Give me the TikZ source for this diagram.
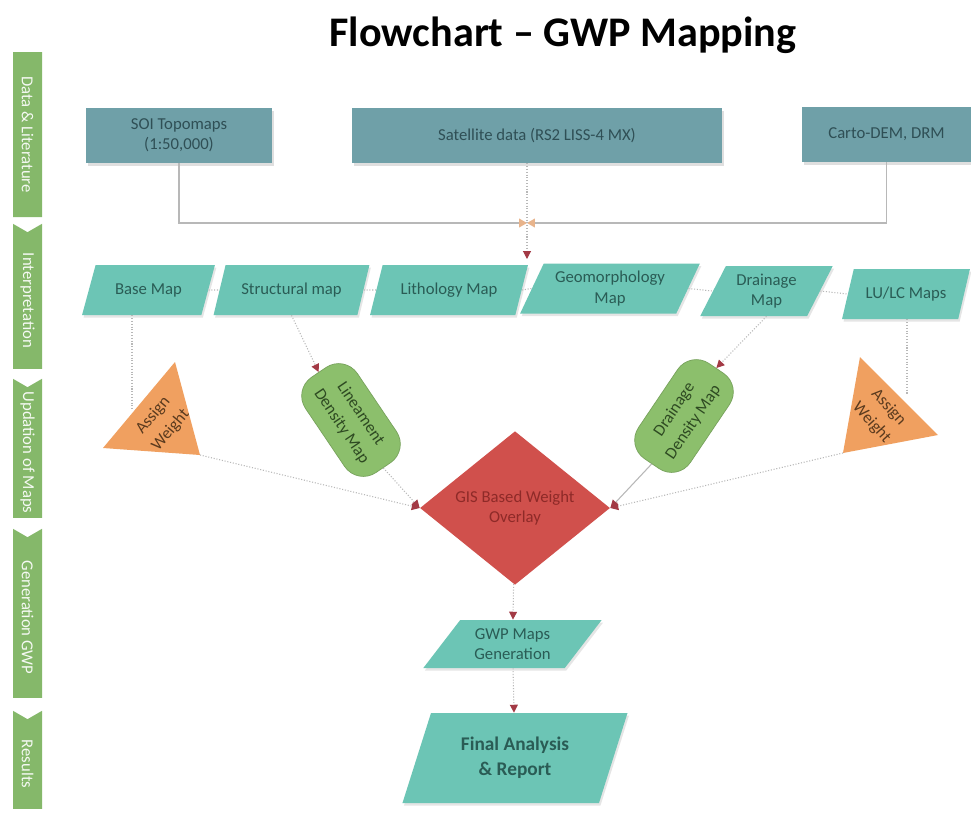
\documentclass[tikz,border=0pt]{standalone}
\usepackage{fontspec}
\setmainfont{Carlito}
\usetikzlibrary{shapes.geometric, shapes.symbols, arrows.meta, positioning, shadows}

\definecolor{srcteal}{HTML}{6FA0A8}
\definecolor{srctext}{HTML}{2F4F55}
\definecolor{mapteal}{HTML}{6CC5B5}
\definecolor{maptext}{HTML}{2A5C55}
\definecolor{wtorange}{HTML}{F0A060}
\definecolor{wttext}{HTML}{5A3A1E}
\definecolor{densgreen}{HTML}{8CBF6C}
\definecolor{denstext}{HTML}{2E4A22}
\definecolor{gisred}{HTML}{D0504C}
\definecolor{gistext}{HTML}{8E2A28}
\definecolor{sidegreen}{HTML}{85B86A}
\definecolor{linkgray}{HTML}{B8B8B8}
\definecolor{tipred}{HTML}{A33A45}
\definecolor{tippeach}{HTML}{E8B48C}

\tikzstyle{source} = [rectangle, minimum height=1.1cm, text centered, align=center, fill=srcteal, text=srctext, drop shadow={shadow xshift=0.03cm, shadow yshift=-0.05cm, opacity=0.25}]
\tikzstyle{mapbox} = [trapezium, trapezium left angle=62, trapezium right angle=118, trapezium stretches=true, minimum height=1cm, inner sep=1pt, align=center, fill=mapteal, text=maptext, drop shadow={shadow xshift=0.03cm, shadow yshift=-0.05cm, opacity=0.2}]
\tikzstyle{density} = [rectangle, rounded corners=0.45cm, minimum width=2.3cm, minimum height=1.25cm, align=center, fill=densgreen, draw=densgreen!85!black, text=denstext, font=\fontsize{9.5}{13}\selectfont]
\tikzstyle{weight} = [fill=wtorange]
\tikzstyle{wtext} = [align=center, text=wttext, font=\fontsize{9.5}{13}\selectfont]
\tikzstyle{overlay} = [diamond, minimum width=3.8cm, minimum height=2.4cm, inner sep=0pt, align=center, fill=gisred, text=gistext]
\tikzstyle{stage} = [signal, signal to=nowhere, signal pointer angle=120, rotate=-90, minimum height=0.58cm, inner sep=0pt, fill=sidegreen, text=white!92!sidegreen, font=\fontsize{9.5}{11}\selectfont]
\tikzstyle{arrow} = [densely dotted, line width=0.6pt, linkgray, -{Triangle[length=4.5pt, width=4.5pt, color=tipred]}]
\tikzstyle{feed} = [linkgray, line width=0.6pt, -{Triangle[length=4.5pt, width=5pt, color=tippeach]}]
\tikzstyle{faint} = [densely dotted, line width=0.6pt, linkgray]

\begin{document}
\begin{tikzpicture}[node distance=1.5cm, font=\fontsize{9.5}{11.5}\selectfont]

\useasboundingbox (0,0) rectangle (19.42,-16.3);
\fill[white] (0,0) rectangle (19.42,-16.3);

% Title
\node (title) at (11.26,-0.70) {\fontsize{24}{28}\selectfont\bfseries Flowchart – GWP Mapping};

% Stages
\foreach \nm/\y/\len/\from/\txt in {st1/-2.69/3.30/nowhere/Data \& Literature,
    st2/-6.01/2.90/west/Interpretation,
    st3/-9.05/2.78/west/Updation of Maps,
    st4/-12.35/3.38/west/Generation GWP,
    st5/-15.28/1.96/west/Results}
  \node (\nm) [stage, signal from=\from, minimum width=\len cm] at (0.55,\y) {\txt};

% Nodes
\node (soi) [source, minimum width=3.72cm] at (3.58,-2.71) {SOI Topomaps\\(1:50,000)};
\node (sat) [source, minimum width=7.4cm] at (10.74,-2.71) {Satellite data (RS2 LISS-4 MX)};
\node (carto) [source, minimum width=3.38cm] at (17.73,-2.69) {Carto-DEM, DRM};
\coordinate (junc) at (10.54,-4.46);
\coordinate (lithin) at (10.54,-5.18);

\node (base) [mapbox, minimum width=2.66cm] at (2.97,-5.80) {Base Map};
\node (struct) [mapbox, minimum width=3.14cm] at (5.83,-5.80) {Structural map};
\node (lith) [mapbox, minimum width=3.16cm] at (8.98,-5.80) {Lithology Map};
\node (geo) [mapbox, minimum width=3.6cm] at (12.20,-5.77) {Geomorphology\\Map};
\node (drain) [mapbox, minimum width=2.66cm] at (15.33,-5.82) {Drainage\\Map};
\node (lulc) [mapbox, minimum width=2.56cm] at (18.12,-5.88) {LU/LC Maps};

\coordinate (lwa) at (3.50,-7.24);
\coordinate (lwb) at (2.06,-8.96);
\coordinate (lwc) at (4.00,-9.10);
\coordinate (lwtop) at (2.64,-8.20);
\fill[weight] (lwa) -- (lwb) -- (lwc) -- cycle;
\node (lwt) [wtext, rotate=50] at (3.24,-8.46) {Assign\\Weight};

\coordinate (rwa) at (17.20,-7.14);
\coordinate (rwb) at (16.86,-9.06);
\coordinate (rwc) at (18.76,-8.70);
\coordinate (rwtop) at (18.14,-7.90);
\fill[weight] (rwa) -- (rwb) -- (rwc) -- cycle;
\node (rwt) [wtext, rotate=-48] at (17.60,-8.30) {Assign\\Weight};

\node (lin) [density, rotate=-56] at (7.02,-8.40) {Lineament\\Density Map};
\node (dd) [density, rotate=56] at (13.68,-8.32) {Drainage\\Density Map};

\node (gis) [overlay] at (10.30,-10.16) {GIS Based Weight\\Overlay};
\node (gwp) [mapbox, minimum width=3.58cm, minimum height=0.96cm, trapezium left angle=51, trapezium right angle=129, below of=gis, yshift=-1.22cm, xshift=-0.05cm] {GWP Maps\\Generation};
\node (final) [mapbox, minimum width=4.52cm, minimum height=1.8cm, trapezium left angle=67, trapezium right angle=113, below of=gwp, yshift=-0.78cm, xshift=0.05cm, font=\fontsize{11}{14}\selectfont\bfseries] {Final Analysis\\\& Report};

% Arrows
\draw [feed] (soi.south) |- (junc);
\draw [feed] (carto.south) |- (junc);
\draw [arrow] (sat.south -| junc) -- (lithin);
\draw [faint] (base.east) -- (struct.west);
\draw [faint] (struct.east) -- (lith.west);
\draw [faint] (lith.east) -- (geo.west);
\draw [faint] (geo.east) -- (drain.west);
\draw [faint] (drain.east) -- (lulc.west);
\draw [faint] (lwtop |- base.south) -- (lwtop);
\draw [faint] (rwtop |- lulc.south) -- (rwtop);
\draw [arrow] (struct.south) -- (lin.west);
\draw [arrow] (drain.south) -- (dd.east);
\draw [arrow] (lwc) -- (gis.west);
\draw [arrow] (lin.east) -- (gis.west);
\draw [arrow, solid] (dd.west) -- (gis.east);
\draw [arrow] (rwb) -- (gis.east);
\draw [arrow] (gis) -- (gwp);
\draw [arrow] (gwp) -- (final);

\end{tikzpicture}
\end{document}
